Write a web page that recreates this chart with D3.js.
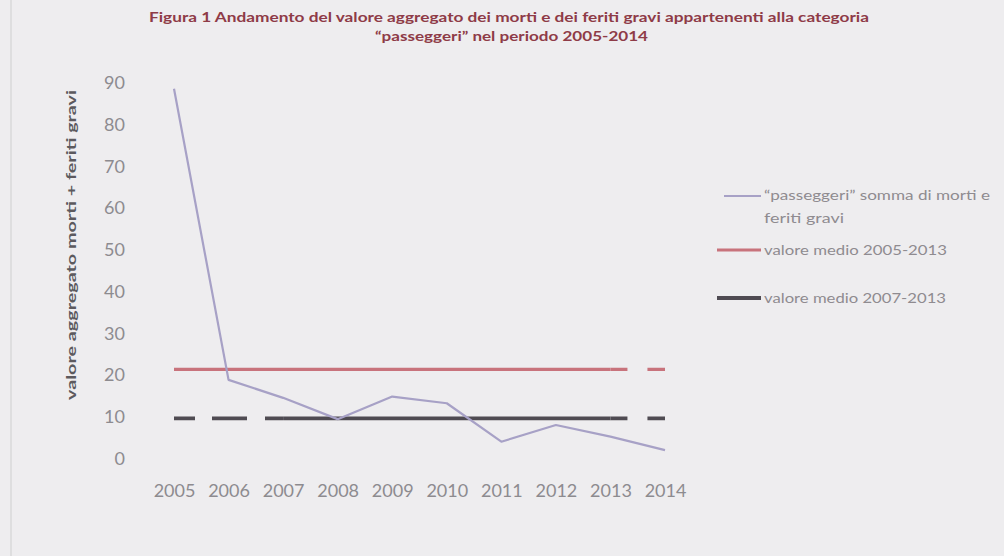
<!DOCTYPE html>
<html>
<head>
<meta charset="utf-8">
<script src="https://cdn.jsdelivr.net/npm/d3@7"></script>
<style>
  html, body { margin: 0; padding: 0; background: #eeedef; }
  svg { display: block; }
</style>
</head>
<body>
<svg id="chart" width="1004" height="556"></svg>
<script>
// ---- data ----
const years = [2005, 2006, 2007, 2008, 2009, 2010, 2011, 2012, 2013, 2014];
const passeggeri = [88.4, 18.7, 14.4, 9.3, 14.7, 13.1, 3.9, 7.9, 5.1, 1.9];
const media20052013 = [21.2, 21.2, 21.2, 21.2, 21.2, 21.2, 21.2, 21.2, 21.2, 21.2];
const media20072013 = [9.5, 9.5, 9.5, 9.5, 9.5, 9.5, 9.5, 9.5, 9.5, 9.5];
const yTicks = [0, 10, 20, 30, 40, 50, 60, 70, 80, 90];
const titleLines = [
  "Figura 1 Andamento del valore aggregato dei morti e dei feriti gravi appartenenti alla categoria",
  "\u201Cpasseggeri\u201D nel periodo 2005-2014"
];
const yTitle = "valore aggregato morti + feriti gravi";
const legendLabels = [
  ["\u201Cpasseggeri\u201D somma di morti e", "feriti gravi"],
  ["valore medio 2005-2013"],
  ["valore medio 2007-2013"]
];

// ---- drawing ----
const svg = d3.select("#chart");
const x = d3.scalePoint().domain(years).range([174, 665]);
const y = d3.scaleLinear().domain([0, 90]).range([458, 82]);
const font = "Lato, 'Open Sans', sans-serif";

// left frame edge
svg.append("line").attr("x1", 11).attr("x2", 11).attr("y1", 0).attr("y2", 556)
  .attr("stroke", "#d9d8da").attr("stroke-width", 1.5);

// title
const tLayout = [{x0: 149, len: 720, base: 22}, {x0: 375, len: 273, base: 41}];
titleLines.forEach((t, i) => {
  svg.append("text")
    .attr("x", tLayout[i].x0).attr("y", tLayout[i].base)
    .attr("textLength", tLayout[i].len).attr("lengthAdjust", "spacingAndGlyphs")
    .attr("font-family", font).attr("font-weight", "bold").attr("font-size", 13)
    .attr("fill", "#8e3b47").text(t);
});

// y axis title
svg.append("text")
  .attr("transform", "translate(76,245) rotate(-90)")
  .attr("text-anchor", "middle")
  .attr("textLength", 310).attr("lengthAdjust", "spacingAndGlyphs")
  .attr("font-family", font).attr("font-weight", "bold").attr("font-size", 14)
  .attr("fill", "#5c5a5e").text(yTitle);

// y axis (labels only)
const yAxis = d3.axisLeft(y).tickValues(yTicks).tickSize(0).tickPadding(0);
const gy = svg.append("g").attr("transform", "translate(125,0)").call(yAxis);
gy.select(".domain").remove();
gy.selectAll("text").attr("font-family", font).attr("font-size", 18)
  .attr("fill", "#8d8b8f").attr("dy", "0.36em");

// x axis (labels only)
const xAxis = d3.axisBottom(x).tickSize(0).tickPadding(0);
const gx = svg.append("g").attr("transform", "translate(0,484)").call(xAxis);
gx.select(".domain").remove();
gx.selectAll("text").attr("font-family", font).attr("font-size", 18)
  .attr("fill", "#8d8b8f").attr("dy", "0.71em");

const line = d3.line().x(d => x(d[0])).y(d => y(d[1]));
function seg(values, i0, i1) {
  const out = [];
  for (let i = i0; i <= i1; i++) out.push([years[i], values[i]]);
  return out;
}

// red mean line: solid 2005-2013, dashed 2013-2014
const red = "#c8737c";
svg.append("path").attr("d", line(seg(media20052013, 0, 8)))
  .attr("fill", "none").attr("stroke", red).attr("stroke-width", 3.2);
svg.append("path").attr("d", line(seg(media20052013, 8, 9)))
  .attr("fill", "none").attr("stroke", red).attr("stroke-width", 3.2)
  .attr("stroke-dasharray", "17 20 20");

// dark mean line: dashed 2005-2007, solid 2007-2013, dashed 2013-2014
const dark = "#4f4b52";
svg.append("path").attr("d", line(seg(media20072013, 0, 2)))
  .attr("fill", "none").attr("stroke", dark).attr("stroke-width", 3.8)
  .attr("stroke-dasharray", "21 17 35 18 40");
svg.append("path").attr("d", line(seg(media20072013, 2, 8)))
  .attr("fill", "none").attr("stroke", dark).attr("stroke-width", 3.8);
svg.append("path").attr("d", line(seg(media20072013, 8, 9)))
  .attr("fill", "none").attr("stroke", dark).attr("stroke-width", 3.8)
  .attr("stroke-dasharray", "17 20 20");

// passeggeri series
const lav = "#a7a1c6";
svg.append("path").attr("d", line(years.map((yr, i) => [yr, passeggeri[i]])))
  .attr("fill", "none").attr("stroke", lav).attr("stroke-width", 2.2)
  .attr("stroke-linejoin", "round");

// legend
const legend = [
  {color: lav, w: 2.2, ly: 196, x1: 724, lines: [{base: 200, len: 226}, {base: 223, len: 80}]},
  {color: red, w: 3.2, ly: 250, x1: 717, lines: [{base: 255, len: 183}]},
  {color: dark, w: 3.8, ly: 298, x1: 717, lines: [{base: 303, len: 182}]}
];
legend.forEach((L, i) => {
  svg.append("line").attr("x1", L.x1).attr("x2", 761).attr("y1", L.ly).attr("y2", L.ly)
    .attr("stroke", L.color).attr("stroke-width", L.w);
  legendLabels[i].forEach((t, j) => {
    svg.append("text").attr("x", 764).attr("y", L.lines[j].base)
      .attr("textLength", L.lines[j].len).attr("lengthAdjust", "spacingAndGlyphs")
      .attr("font-family", font).attr("font-size", 13)
      .attr("fill", "#8f8b90").text(t);
  });
});
</script>
</body>
</html>
